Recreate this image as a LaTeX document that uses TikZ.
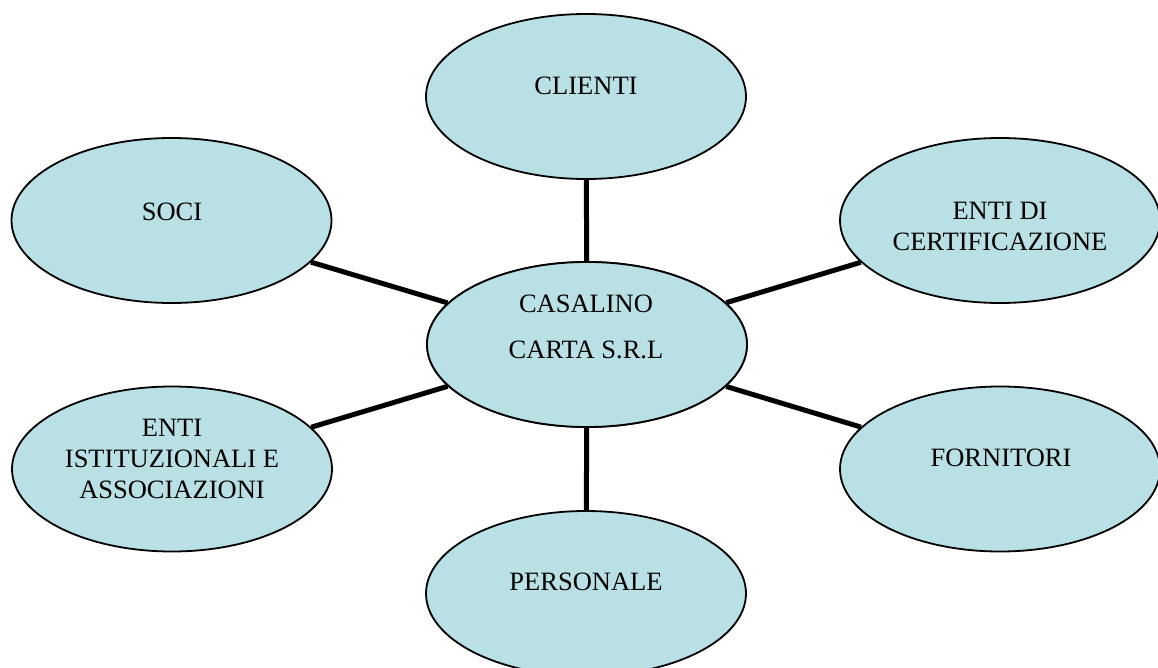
\documentclass[tikz,border=0pt]{standalone}
\usepackage{fontspec}
\setmainfont{Liberation Serif}
\usetikzlibrary{shapes.geometric}
\definecolor{ellfill}{RGB}{185,224,228}
\begin{document}
\begin{tikzpicture}[x=1pt,y=-1pt,
  ell/.style={ellipse,draw=black,line width=1.8pt,fill=ellfill,minimum width=320pt,minimum height=165pt,inner sep=0pt},
  lbl/.style={align=center,inner sep=0pt,font=\fontsize{26.5}{31}\selectfont},
  link/.style={line width=5pt,black}]
\useasboundingbox (0,0) rectangle (1158,668);
\node[ell] (cli) at (586,96.5) {};
\node[ell] (soci) at (171.5,220.5) {};
\node[ell] (cert) at (1000,220.5) {};
\node[ell] (ist) at (172,469) {};
\node[ell] (forn) at (1000,469) {};
\node[ell] (pers) at (586,593.5) {};
\node[ell] (cas) at (587,344.5) {};
\draw[link] (cas) -- (cli);
\draw[link] (cas) -- (soci);
\draw[link] (cas) -- (cert);
\draw[link] (cas) -- (ist);
\draw[link] (cas) -- (forn);
\draw[link] (cas) -- (pers);
\node[ell] at (cas) {};
\node[lbl] (tcli) at (586,86) {CLIENTI};
\node[lbl] (tsoci) at (172,212) {SOCI};
\node[lbl] (tcert) at (1000,226.5) {ENTI DI\\CERTIFICAZIONE};
\node[lbl] (tist) at (172,459) {ENTI\\ISTITUZIONALI E\\ASSOCIAZIONI};
\node[lbl] (tforn) at (1001,458) {FORNITORI};
\node[lbl] (tpers) at (586,582) {PERSONALE};
\node[lbl,font=\fontsize{26.5}{46}\selectfont] (tcas) at (586,327) {CASALINO\\CARTA S.R.L};
\end{tikzpicture}
\end{document}
